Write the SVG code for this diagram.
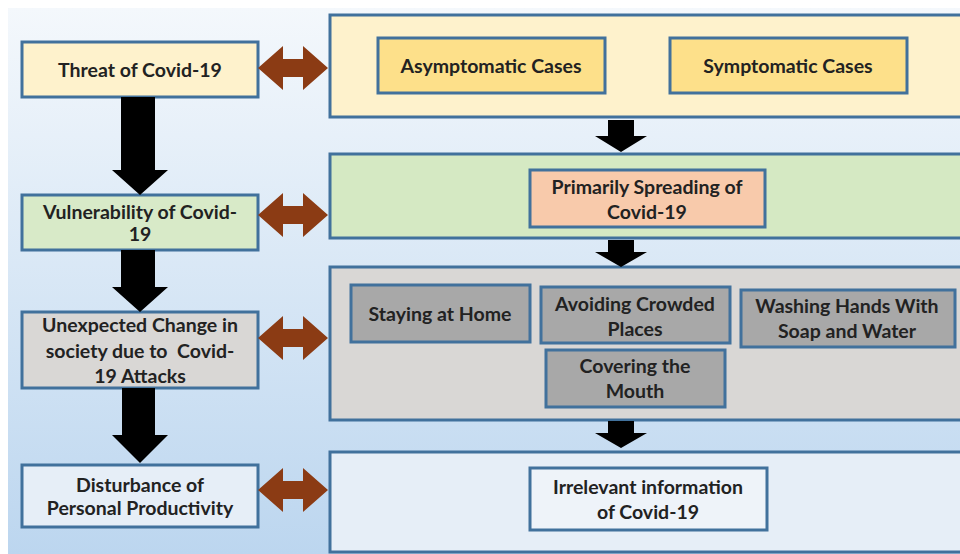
<svg xmlns="http://www.w3.org/2000/svg" width="960" height="554" viewBox="0 0 960 554">
<defs>
<linearGradient id="bg" x1="0" y1="0" x2="0" y2="1">
<stop offset="0" stop-color="#f4f8fc"/>
<stop offset="1" stop-color="#bcd6ef"/>
</linearGradient>
<path id="dbl" d="M0,0 L25,-22 L25,-9 L45,-9 L45,-22 L70,0 L45,22 L45,9 L25,9 L25,22 Z" fill="#8b3b14"/>
</defs>
<style>
.box{stroke:#41719c;stroke-width:3}
.t{font-family:Lato,"Open Sans","Liberation Sans",sans-serif;font-weight:bold;font-size:19.5px;fill:#222;text-anchor:middle}
.down{fill:#000}
</style>
<rect width="960" height="554" fill="#ffffff"/>
<rect x="8" y="8" width="952" height="546" fill="url(#bg)"/>

<g id="threat">
<rect class="box" x="22" y="42" width="236" height="55" fill="#fef2cc"/>
<text class="t" x="140" y="77">Threat of Covid-19</text>
</g>
<g id="vulnerability">
<rect class="box" x="22" y="195" width="236" height="55" fill="#d8eac8"/>
<text class="t" x="140" y="219">Vulnerability of Covid-</text>
<text class="t" x="140" y="241">19</text>
</g>
<g id="unexpected">
<rect class="box" x="22" y="312" width="236" height="76" fill="#d9d7d5"/>
<text class="t" x="140" y="332">Unexpected Change in</text>
<text class="t" x="140" y="358">society due to&#160; Covid-</text>
<text class="t" x="140" y="383">19 Attacks</text>
</g>
<g id="disturbance">
<rect class="box" x="22" y="465" width="236" height="62" fill="#e6eef7"/>
<text class="t" x="140" y="492">Disturbance of</text>
<text class="t" x="140" y="515">Personal Productivity</text>
</g>

<g id="cases-panel">
<rect class="box" x="330" y="15" width="640" height="102" fill="#fef2cc"/>
</g>
<g id="asymptomatic">
<rect class="box" x="378" y="38" width="227" height="55" fill="#fde08a"/>
<text class="t" x="491" y="73">Asymptomatic Cases</text>
</g>
<g id="symptomatic">
<rect class="box" x="670" y="38" width="237" height="55" fill="#fde08a"/>
<text class="t" x="788" y="73">Symptomatic Cases</text>
</g>

<g id="spreading-panel">
<rect class="box" x="330" y="154" width="640" height="84" fill="#d5e9c3"/>
</g>
<g id="primarily">
<rect class="box" x="530" y="170" width="235" height="57" fill="#f8caab"/>
<text class="t" x="647" y="194">Primarily Spreading of</text>
<text class="t" x="647" y="219">Covid-19</text>
</g>

<g id="change-panel">
<rect class="box" x="330" y="267" width="640" height="153" fill="#d9d7d5"/>
</g>
<g id="staying">
<rect class="box" x="351" y="285" width="179" height="57" fill="#a8a8a8"/>
<text class="t" x="440" y="321">Staying at Home</text>
</g>
<g id="avoiding">
<rect class="box" x="541" y="287" width="189" height="56" fill="#a8a8a8"/>
<text class="t" x="635" y="311">Avoiding Crowded</text>
<text class="t" x="635" y="336">Places</text>
</g>
<g id="washing">
<rect class="box" x="741" y="290" width="214" height="57" fill="#a8a8a8"/>
<text class="t" x="847" y="313">Washing Hands With</text>
<text class="t" x="847" y="338">Soap and Water</text>
</g>
<g id="covering">
<rect class="box" x="546" y="350" width="179" height="57" fill="#a8a8a8"/>
<text class="t" x="635" y="373">Covering the</text>
<text class="t" x="635" y="398">Mouth</text>
</g>

<g id="productivity-panel">
<rect class="box" x="330" y="452" width="640" height="100" fill="#e6eef7"/>
</g>
<g id="irrelevant">
<rect class="box" x="530" y="468" width="237" height="62" fill="#eef3f9"/>
<text class="t" x="648" y="494">Irrelevant information</text>
<text class="t" x="648" y="519">of Covid-19</text>
</g>

<g id="connectors">
<polygon class="down" points="121,97 155,97 155,170 168,170 140,195 112,170 121,170"/>
<polygon class="down" points="121,250 155,250 155,287 168,287 140,312 112,287 121,287"/>
<polygon class="down" points="122,388 155,388 155,435 168,435 140,463 112,435 122,435"/>
<polygon class="down" points="608,120 634,120 634,136 647,136 621,152 595,136 608,136"/>
<polygon class="down" points="608,240 634,240 634,252 647,252 621,267 595,252 608,252"/>
<polygon class="down" points="608,421 634,421 634,433 647,433 621,448 595,433 608,433"/>
<use href="#dbl" x="258" y="68"/>
<use href="#dbl" x="258" y="215"/>
<use href="#dbl" x="258" y="338"/>
<use href="#dbl" x="258" y="490"/>
</g>
</svg>
